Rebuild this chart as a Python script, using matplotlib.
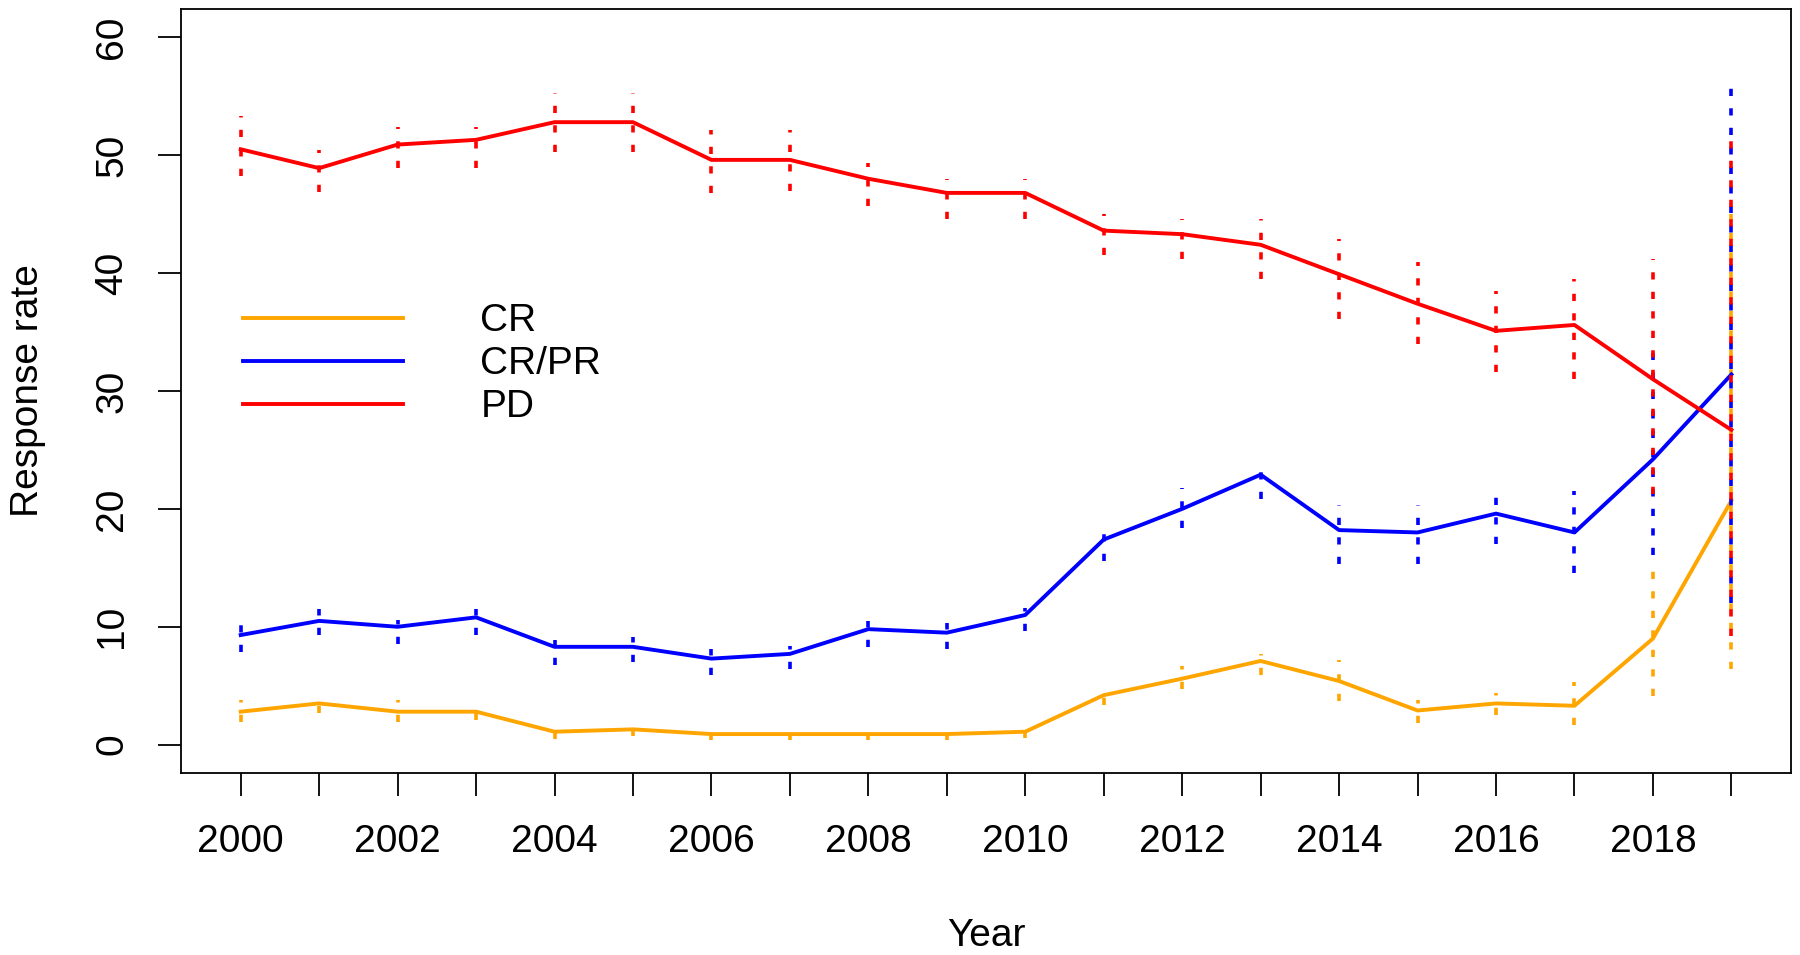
import matplotlib
matplotlib.use("Agg")
import matplotlib.pyplot as plt
import numpy as np

plt.rcParams['font.family'] = ['Liberation Sans', 'DejaVu Sans']

# Data
years = list(range(2000, 2020))

cr = [2.8, 3.5, 2.8, 2.8, 1.1, 1.3, 0.9, 0.9, 0.9, 0.9,
      1.1, 4.2, 5.6, 7.1, 5.4, 2.9, 3.5, 3.3, 9.0, 20.7]
cr_lo = [1.9, 2.7, 1.9, 2.1, 0.5, 0.7, 0.4, 0.4, 0.4, 0.4,
         0.6, 3.4, 4.7, 5.9, 3.7, 1.8, 2.5, 1.7, 4.1, 6.4]
cr_hi = [3.8, 4.3, 3.8, 3.6, 1.6, 1.8, 1.3, 1.3, 1.3, 1.3,
         1.6, 4.8, 6.7, 7.7, 7.2, 3.8, 4.4, 5.3, 15.6, 45.0]

crpr = [9.3, 10.5, 10.0, 10.8, 8.3, 8.3, 7.3, 7.7, 9.8, 9.5,
        11.0, 17.4, 20.0, 22.9, 18.2, 18.0, 19.6, 18.0, 24.2, 31.4]
crpr_lo = [7.9, 9.3, 8.5, 9.3, 6.8, 7.0, 5.9, 6.4, 8.3, 8.1,
           9.6, 15.6, 18.4, 20.8, 15.3, 15.3, 17.0, 14.6, 16.1, 12.0]
crpr_hi = [10.2, 11.5, 10.6, 11.5, 8.9, 9.1, 8.1, 8.4, 10.5, 10.3,
           11.6, 17.9, 21.8, 24.1, 20.3, 20.3, 21.9, 21.5, 33.8, 56.2]

pd_ = [50.5, 48.9, 50.9, 51.3, 52.8, 52.8, 49.6, 49.6, 48.0, 46.8,
       46.8, 43.6, 43.3, 42.4, 39.9, 37.4, 35.1, 35.6, 31.0, 26.7]
pd_lo = [48.2, 46.9, 48.9, 48.9, 50.3, 50.3, 46.8, 47.0, 45.7, 44.6,
         44.6, 41.5, 41.2, 39.5, 36.1, 34.0, 31.6, 31.0, 21.3, 9.2]
pd_hi = [53.3, 50.4, 52.4, 52.4, 55.3, 55.3, 52.1, 52.1, 49.3, 48.0,
         48.0, 45.0, 44.6, 44.6, 42.9, 40.9, 38.5, 39.5, 41.2, 51.4]

series = [
    ("CR", cr, cr_lo, cr_hi, "orange"),
    ("CR/PR", crpr, crpr_lo, crpr_hi, "blue"),
    ("PD", pd_, pd_lo, pd_hi, "red"),
]

fig = plt.figure(figsize=(18, 9.55), dpi=100)
ax = fig.add_axes([0.1006, 0.1906, 0.8944, 0.8])

dotted = (0, (2.0, 3.4))
for i, (name, y, lo, hi, col) in enumerate(series):
    ax.plot(years, y, color=col, lw=2.8, label=name, zorder=3 + 2 * i)
    ax.vlines(years, lo, hi, colors=col, linestyles=[dotted], lw=2.6,
              zorder=2 + 2 * i)

ax.set_xlim(1999.24, 2019.76)
ax.set_ylim(-2.4, 62.4)

ax.set_xticks(years)
ax.set_xticklabels([str(y) if y % 2 == 0 else "" for y in years])
ax.set_yticks(range(0, 61, 10))
ax.set_yticklabels([str(v) for v in range(0, 61, 10)], rotation=90, va="center")

ax.tick_params(axis="both", length=16.5, width=1.3, labelsize=28, pad=20,
               color="black")
for s in ax.spines.values():
    s.set_linewidth(1.3)
    s.set_color("black")

ax.set_xlabel("Year", fontsize=28, labelpad=42)
ax.set_ylabel("Response rate", fontsize=28, labelpad=35)

ax.legend(loc="center left", bbox_to_anchor=(0.0385, 0.535), frameon=False,
          fontsize=28, handlelength=4.1, handletextpad=2.0, labelspacing=0.18,
          borderpad=0, borderaxespad=0)

fig.savefig("out.png", dpi=100)
